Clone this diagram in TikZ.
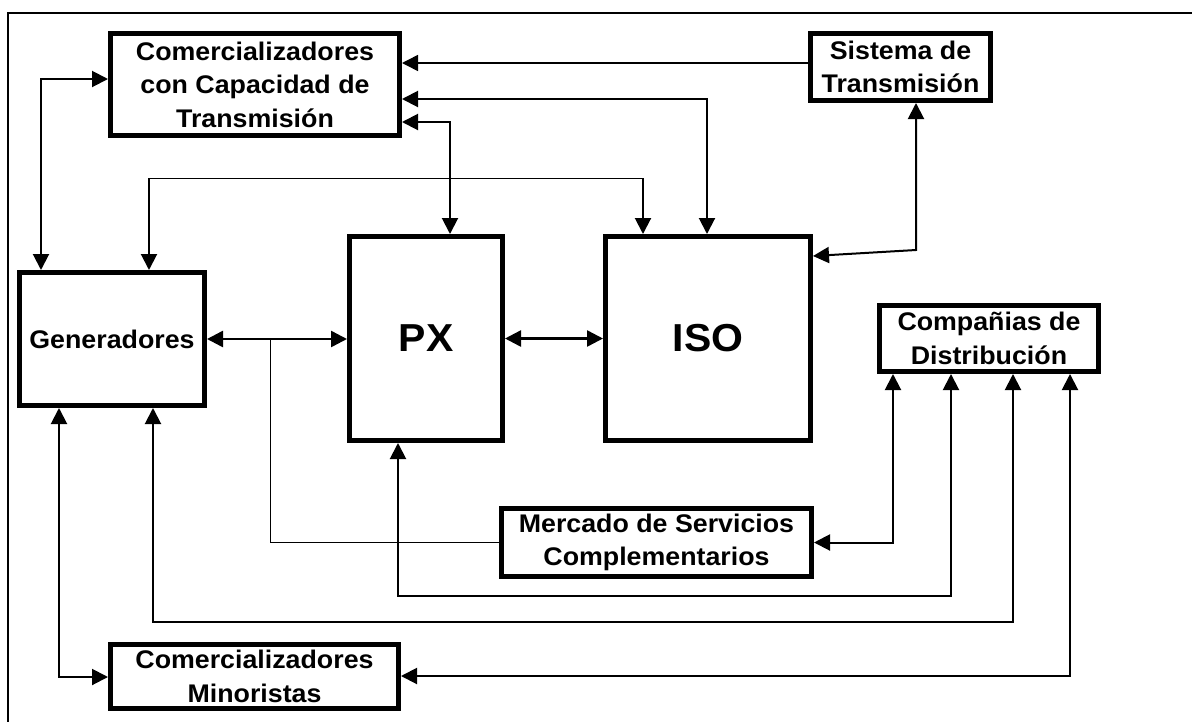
\documentclass[tikz,border=0pt]{standalone}
\usepackage{fontspec}
\setmainfont{Liberation Sans}[FakeStretch=1.05]
\usetikzlibrary{arrows.meta}
\begin{document}
\begin{tikzpicture}[x=1pt,y=-1pt,
  >={Triangle[length=16pt 0 0,width=16pt 0 0]},
  box/.style={draw,line width=5pt,inner sep=0pt,align=center,
    font=\fontsize{25.5}{33.5}\selectfont\bfseries},
  bigbox/.style={box,font=\fontsize{39}{46}\selectfont\bfseries},
  link/.style={line width=2pt},
  heavy/.style={line width=2.5pt},
  light/.style={line width=1pt},
  edge/.style={line width=1.5pt},
]
\useasboundingbox (0,0) rectangle (1192,721);
% outer frame
\draw[edge] (8,13) rectangle (1215,740);

% blocks
\node[box,minimum width=289pt,minimum height=102pt] (cct) at (255,84.5)
  {Comercializadores\\con Capacidad de\\Transmisión};
\node[box,minimum width=180pt,minimum height=67pt] (st) at (900.5,67)
  {Sistema de\\Transmisión};
\node[box,minimum width=185pt,minimum height=133pt] (gen) at (112,339)
  {Generadores};
\node[bigbox,minimum width=153pt,minimum height=204pt] (px) at (426,338.5) {PX};
\node[bigbox,minimum width=205pt,minimum height=204pt] (iso) at (708,338.5) {ISO};
\node[box,minimum width=219pt,minimum height=66pt] (cd) at (989,338.5)
  {Compañias de\\Distribución};
\node[box,minimum width=310pt,minimum height=68pt] (msc) at (656.5,542.5)
  {Mercado de Servicios\\Complementarios};
\node[box,minimum width=288pt,minimum height=64pt] (cm) at (254.5,676.5)
  {Comercializadores\\Minoristas};

% bend points
\coordinate (a1) at (41,79);
\coordinate (b1) at (149,178);
\coordinate (b2) at (643,178);
\coordinate (c1) at (450,122);
\coordinate (d1) at (707,99);
\coordinate (e1) at (0,63);
\coordinate (f0) at (0,256);
\coordinate (f1) at (916,250);
\coordinate (i1) at (270,339);
\coordinate (j1) at (893,541);
\coordinate (k1) at (398,596);
\coordinate (k2) at (951,596);
\coordinate (l1) at (153,622);
\coordinate (l2) at (1013,622);
\coordinate (m1) at (59,677);
\coordinate (n1) at (1070,676);

% connectors
\draw[link,<->] (a1 |- gen.north) -- (a1) -- (a1 -| cct.west);
\draw[link,->] (b1) -- (b1 |- gen.north);
\draw[link,->] (b2) -- (b2 |- iso.north);
\draw[light] (b1) -- (b2);
\draw[link,<->] (c1 -| cct.east) -- (c1) -- (c1 |- px.north);
\draw[link,<->] (d1 -| cct.east) -- (d1) -- (d1 |- iso.north);
\draw[edge,->] (e1 -| st.west) -- (e1 -| cct.east);
\draw[link,<->] (f0 -| iso.east) -- (f1) -- (f1 |- st.south);
\draw[heavy,<->] (gen.east) -- (gen.east -| px.west);
\draw[heavy,<->] (px.east) -- (px.east -| iso.west);
\draw[light] (msc.west) -| (i1);
\draw[link,<->] (msc.east) -| (j1 |- cd.south);
\draw[link,<->] (k1 |- px.south) -- (k1) -- (k2) -- (k2 |- cd.south);
\draw[link,<->] (l1 |- gen.south) -- (l1) -- (l2) -- (l2 |- cd.south);
\draw[link,<->] (m1 |- gen.south) -- (m1) -- (m1 -| cm.west);
\draw[link,<->] (n1 -| cm.east) -- (n1) -- (n1 |- cd.south);
\end{tikzpicture}
\end{document}
